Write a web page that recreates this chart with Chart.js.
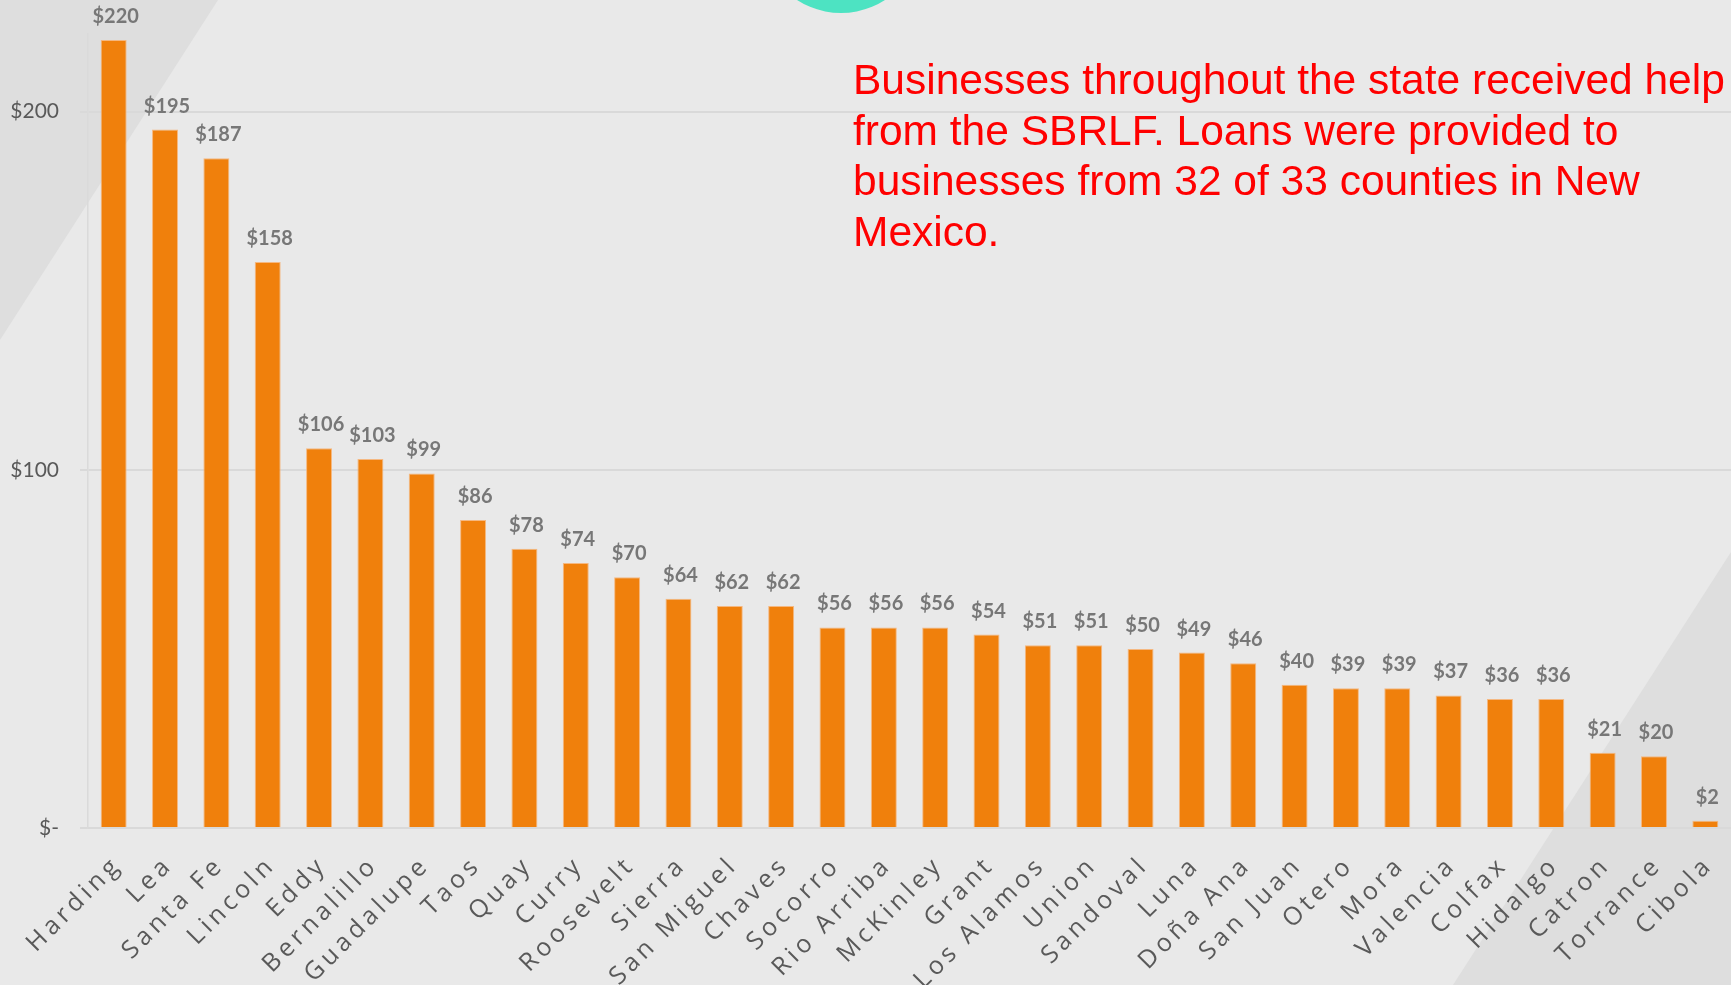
<!DOCTYPE html>
<html>
<head>
<meta charset="utf-8">
<title>SBRLF loans by county</title>
<script src="https://cdn.jsdelivr.net/npm/chart.js@4"></script>
<style>
  html, body { margin: 0; padding: 0; background: #e9e9e9; overflow: hidden; }
  #wrap { position: relative; width: 1731px; height: 985px; }
  #note {
    position: absolute; left: 853px; top: 55px; width: 880px;
    font-family: "Liberation Sans", Arial, sans-serif; font-size: 42.5px; line-height: 50.7px;
    color: #ff0000; white-space: nowrap;
  }
</style>
</head>
<body>
<div id="wrap">
  <canvas id="loans"></canvas>
  <div id="note">Businesses throughout the state received help<br>from the SBRLF. Loans were provided to<br>businesses from 32 of 33 counties in New<br>Mexico.</div>
</div>
<script>
const counties = ['Harding', 'Lea', 'Santa Fe', 'Lincoln', 'Eddy', 'Bernalillo', 'Guadalupe', 'Taos',
  'Quay', 'Curry', 'Roosevelt', 'Sierra', 'San Miguel', 'Chaves', 'Socorro', 'Rio Arriba', 'McKinley',
  'Grant', 'Los Alamos', 'Union', 'Sandoval', 'Luna', 'Doña Ana', 'San Juan', 'Otero', 'Mora',
  'Valencia', 'Colfax', 'Hidalgo', 'Catron', 'Torrance', 'Cibola'];
const loanAmounts = [220, 195, 187, 158, 106, 103, 99, 86, 78, 74, 70, 64, 62, 62, 56, 56, 56,
  54, 51, 51, 50, 49, 46, 40, 39, 39, 37, 36, 36, 21, 20, 2];
const yTicks = [0, 100, 200];

const money = (v) => (v === 0 ? '$-' : '$' + v);

// slide backdrop: grey corner triangles and the teal disc peeking in at the top
const backdrop = {
  id: 'backdrop',
  beforeDraw(chart) {
    const ctx = chart.ctx;
    ctx.save();
    ctx.fillStyle = '#e9e9e9';
    ctx.fillRect(0, 0, chart.width, chart.height);
    ctx.fillStyle = '#dedede';
    ctx.beginPath();
    ctx.moveTo(0, 0); ctx.lineTo(218, 0); ctx.lineTo(0, 340); ctx.closePath();
    ctx.fill();
    ctx.beginPath();
    ctx.moveTo(1731, 552); ctx.lineTo(1731, 985); ctx.lineTo(1453, 985); ctx.closePath();
    ctx.fill();
    ctx.fillStyle = '#4de3c2';
    ctx.beginPath();
    ctx.arc(841, -68, 81, 0, Math.PI * 2);
    ctx.fill();
    ctx.restore();
  }
};

// value labels above each bar
const barValues = {
  id: 'barValues',
  afterDatasetsDraw(chart) {
    const ctx = chart.ctx;
    const meta = chart.getDatasetMeta(0);
    ctx.save();
    ctx.font = 'bold 20px Lato, sans-serif';
    ctx.fillStyle = '#777777';
    ctx.textAlign = 'center';
    ctx.textBaseline = 'alphabetic';
    meta.data.forEach((bar, i) => {
      ctx.fillText(money(loanAmounts[i]), bar.x + 2, bar.y - 17);
    });
    ctx.restore();
  }
};

// slanted, letter-spaced county names under the axis
const countyNames = {
  id: 'countyNames',
  afterDraw(chart) {
    const ctx = chart.ctx;
    const xs = chart.scales.x;
    const top = chart.chartArea.bottom + 33;
    ctx.save();
    ctx.font = '25px "Open Sans", sans-serif';
    ctx.letterSpacing = '4.2px';
    ctx.fillStyle = '#595959';
    ctx.textAlign = 'right';
    ctx.textBaseline = 'middle';
    counties.forEach((name, i) => {
      ctx.save();
      ctx.translate(xs.getPixelForValue(i) + 4, top);
      ctx.rotate(-Math.PI / 4);
      ctx.fillText(name, 0, 0);
      ctx.restore();
    });
    ctx.restore();
  }
};

new Chart(document.getElementById('loans'), {
  type: 'bar',
  data: {
    labels: counties,
    datasets: [{
      data: loanAmounts,
      backgroundColor: '#f0800c',
      borderColor: 'rgba(246, 178, 118, 0.9)',
      borderWidth: 1,
      categoryPercentage: 1,
      barPercentage: 0.506
    }]
  },
  options: {
    responsive: true,
    maintainAspectRatio: false,
    animation: false,
    layout: { padding: 0 },
    plugins: {
      legend: { display: false },
      tooltip: { enabled: false }
    },
    scales: {
      x: {
        grid: { display: false },
        border: { color: '#d9d9d9', width: 2 },
        ticks: { display: false },
        afterFit(scale) { scale.height = 157; }
      },
      y: {
        min: 0,
        max: 221.8,
        afterBuildTicks(scale) {
          scale.ticks = yTicks.map((v) => ({ value: v }));
        },
        afterFit(scale) { scale.width = 88; },
        grid: { color: '#d9d9d9', lineWidth: 2, drawTicks: true, tickLength: 8 },
        border: { color: '#dadada', width: 1.5 },
        ticks: {
          padding: 21,
          color: '#595959',
          font: { family: 'Lato, sans-serif', size: 21 },
          callback: (v) => money(v)
        }
      }
    }
  },
  plugins: [backdrop, barValues, countyNames]
});
</script>
</body>
</html>
